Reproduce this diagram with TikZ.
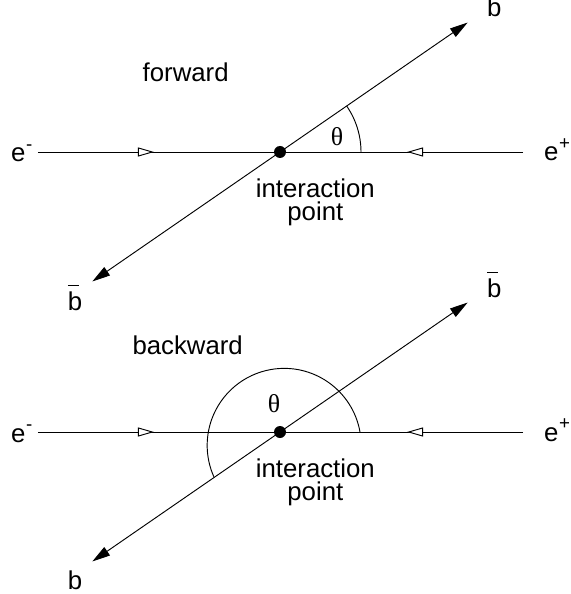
\documentclass[tikz,border=0pt]{standalone}
\usepackage{fontspec}
\setmainfont{Liberation Sans}
\newfontfamily\serifgr{Liberation Serif}
\usetikzlibrary{arrows.meta,decorations.markings}
\newcommand{\bbar}{\rlap{\rule[0.93em]{0.43em}{0.05em}}b}
\newcommand{\chg}[1]{\kern0.5pt\raisebox{0.46em}{\fontsize{16}{16}\selectfont#1}}

\begin{document}
\begin{tikzpicture}[
  beam/.style={line width=0.8pt, postaction={decorate},
    decoration={markings, mark=at position 3.48cm with
      {\arrow{Triangle[length=0.48cm,width=0.27cm,fill=white]}}}},
  jet/.style={line width=0.8pt,
    {Triangle[length=0.54cm,width=0.3cm]}-{Triangle[length=0.54cm,width=0.3cm]}},
  ang/.style={line width=0.8pt},
  vtx/.style={circle, fill=black, minimum size=0.36cm, inner sep=0pt},
  lbl/.style={font=\fontsize{22}{19.2}\selectfont, inner sep=0pt},
]
  \useasboundingbox (-8.4,4.56) rectangle (8.73,-13.26);

  %% forward event
  \node[vtx] (ip_f) at (0,0) {};
  \coordinate (em_f) at (-7.26,0);
  \coordinate (ep_f) at (7.29,0);
  \coordinate (b_f)  at (34.6:6.84);
  \coordinate (bb_f) at (214.6:6.84);
  \draw[beam] (em_f) -- (ip_f.center);
  \draw[beam] (ep_f) -- (ip_f.center);
  \draw[jet] (bb_f) -- (b_f);
  \draw[ang] (2.43,0) arc[start angle=0, end angle=34.6, radius=2.43];

  \node[lbl, anchor=base west] (em_lf) at (-8.07,-0.3) {e\chg{-}};
  \node[lbl, anchor=base west] (ep_lf) at (7.92,-0.27) {e\chg{+}};
  \node[lbl, anchor=base] (b_lf)  at (6.43,4.05)   {b};
  \node[lbl, anchor=base] (bb_lf) at (-6.15,-4.74) {\bbar};
  \node[lbl, anchor=base] (fw)    at (-2.83,2.1)   {forward};
  \node[lbl] (th_f) at (1.71,0.45) {\serifgr θ};
  \node[lbl, align=center, anchor=north] (ipl_f) at (1.06,-0.81) {interaction\\point};

  %% backward event
  \begin{scope}[yshift=-8.4cm]
    \node[vtx] (ip_b) at (0,0) {};
    \coordinate (em_b) at (-7.26,0);
    \coordinate (ep_b) at (7.29,0);
    \coordinate (bb_b) at (34.6:6.84);
    \coordinate (b_b)  at (214.6:6.84);
    \draw[beam] (em_b) -- (ip_b.center);
    \draw[beam] (ep_b) -- (ip_b.center);
    \draw[jet] (b_b) -- (bb_b);
    \draw[ang] (2.4,0) arc[start angle=10, end angle=204, radius=2.31];

    \node[lbl, anchor=base west] (em_lb) at (-8.07,-0.3) {e\chg{-}};
    \node[lbl, anchor=base west] (ep_lb) at (7.92,-0.27) {e\chg{+}};
    \node[lbl, anchor=base] (bb_lb) at (6.43,4.05)   {\bbar};
    \node[lbl, anchor=base] (b_lb)  at (-6.15,-4.72) {b};
    \node[lbl, anchor=base] (bw)    at (-2.77,2.34)  {backward};
    \node[lbl] (th_b) at (-0.18,0.85) {\serifgr θ};
    \node[lbl, align=center, anchor=north] (ipl_b) at (1.06,-0.81) {interaction\\point};
  \end{scope}
\end{tikzpicture}
\end{document}
